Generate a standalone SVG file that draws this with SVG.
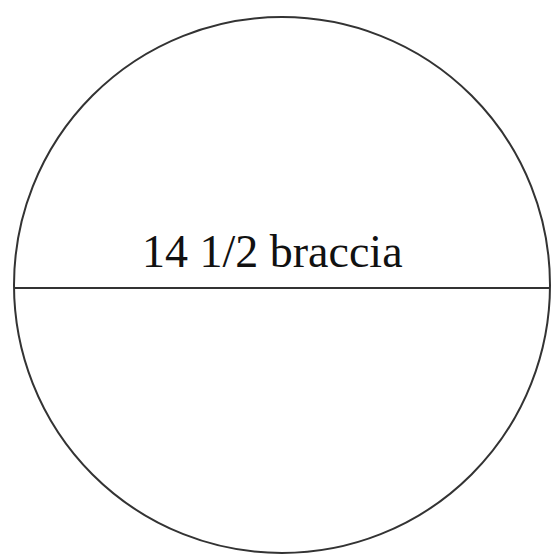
<svg xmlns="http://www.w3.org/2000/svg" width="552" height="556" viewBox="0 0 552 556">
<style>
.s{fill:none;stroke:#333;stroke-width:2}
.t{font-family:"Liberation Serif","Times New Roman",serif;font-size:46px;fill:#111}
</style>
<rect width="552" height="556" fill="#fff"/>
<g id="circle"><circle class="s" cx="282" cy="285" r="268"/></g>
<g id="connectors"><line class="s" x1="14" y1="288" x2="550" y2="288"/></g>
<g id="label"><text class="t" x="142" y="267">14 1/2 braccia</text></g>
</svg>
